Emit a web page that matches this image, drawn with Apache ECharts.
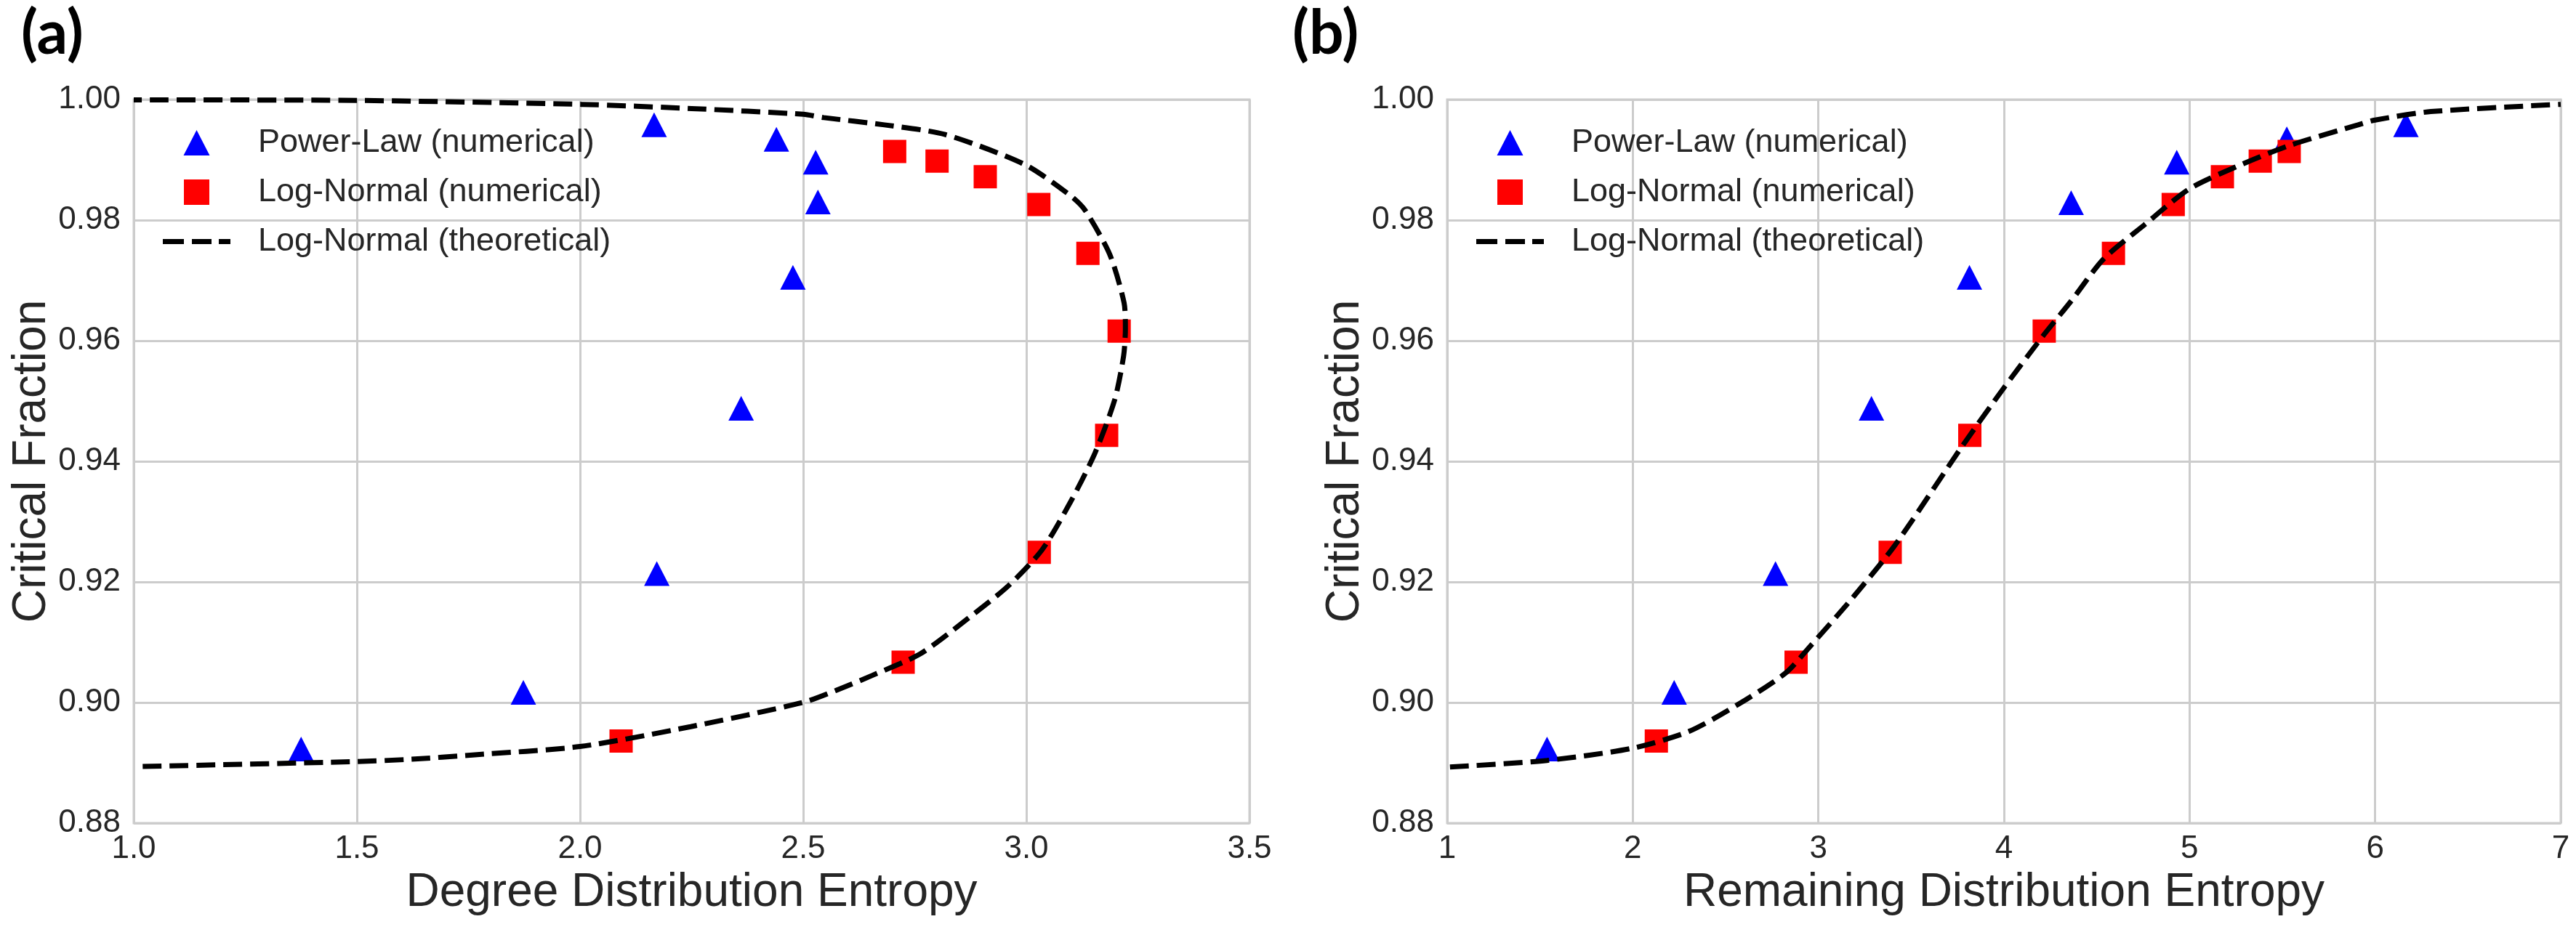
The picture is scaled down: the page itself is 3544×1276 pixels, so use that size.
<!DOCTYPE html>
<html>
<head>
<meta charset="utf-8">
<script src="https://cdn.jsdelivr.net/npm/echarts/dist/echarts.min.js"></script>
<style>
html, body { margin: 0; padding: 0; background: #fff; }
#chart { width: 3544px; height: 1276px; }
</style>
</head>
<body>
<div id="chart"></div>
<script>
// panel (a) - degree distribution entropy
const plDegX = [1.375, 1.873, 2.172, 2.166, 2.361, 2.440, 2.477, 2.528, 2.533];
const plDegY = [0.8923, 0.9017, 0.9214, 0.9958, 0.9488, 0.9934, 0.9705, 0.9896, 0.9830];
const lnDegX = [2.092, 2.724, 3.029, 3.180, 3.208, 3.138, 3.028, 2.908, 2.800, 2.705];
const lnDegY = [0.8936, 0.9067, 0.9249, 0.9443, 0.9616, 0.9745, 0.9826, 0.9872, 0.9898, 0.9914];
const theoDegX = [1.02, 1.5, 1.623, 1.759, 2.0, 2.248, 2.499, 2.573, 2.655, 2.763, 2.872, 2.959, 3.035, 3.100, 3.154,
  3.198, 3.218, 3.222, 3.219, 3.187, 3.132, 3.100, 2.997, 2.818, 2.682, 2.546, 2.5, 2.25, 2.003, 1.5, 1.0];
const theoDegY = [0.8894, 0.8902, 0.8906, 0.8913, 0.8927, 0.8960, 0.9000, 0.9020, 0.9045, 0.9081, 0.9141, 0.9193, 0.9253, 0.9334, 0.9414,
  0.9502, 0.9575, 0.9620, 0.9663, 0.9743, 0.9816, 0.9840, 0.9892, 0.9942, 0.9958, 0.9970, 0.99755, 0.9985, 0.9992, 0.99985, 0.99995];

// panel (b) - remaining distribution entropy
const plRemX = [1.538, 2.223, 2.769, 3.286, 3.814, 4.362, 4.931, 5.524, 6.166];
const plRemY = [0.8923, 0.9017, 0.9214, 0.9488, 0.9705, 0.9829, 0.9896, 0.9935, 0.9958];
const lnRemX = [2.127, 2.880, 3.387, 3.816, 4.217, 4.590, 4.912, 5.177, 5.381, 5.537];
const lnRemY = [0.8936, 0.9067, 0.9249, 0.9443, 0.9616, 0.9745, 0.9826, 0.9872, 0.9898, 0.9914];
const theoRemX = [1.015, 1.538, 1.995, 2.302, 2.563, 2.824, 2.955, 3.18, 3.413, 3.777, 4.0, 4.208, 4.365, 4.535,
  4.756, 5.0, 5.278, 5.540, 5.908, 6.0, 6.300, 7.0];
const theoRemY = [0.8893, 0.8904, 0.8924, 0.8952, 0.8996, 0.9049, 0.9093, 0.9172, 0.9261, 0.9426, 0.9522, 0.9607, 0.9667, 0.9735,
  0.9792, 0.9852, 0.9892, 0.9924, 0.9958, 0.9966, 0.9980, 0.9992];

const yTicks = { min: 0.88, max: 1.0, interval: 0.02 };
const names = ['Power-Law (numerical)', 'Log-Normal (numerical)', 'Log-Normal (theoretical)'];

const zip = (xs, ys) => xs.map((x, i) => [x, ys[i]]);

const FONT = "'Liberation Sans', Arial, sans-serif";
const INK = '#262626';
const GRID = '#cccccc';

// legend handles drawn as paths so they keep their shape
const ICON_TRI = 'path://M17.5,0L35,34L0,34Z';
const ICON_SQ = 'path://M0,0L32,0L32,32L0,32Z';
const ICON_DASH = 'path://M0,0h29v7h-29z M40,0h27v7h-27z M77,0h16v7h-16z';

function xAxis(idx, min, max, interval, digits, name) {
  return {
    type: 'value', gridIndex: idx, min: min, max: max, interval: interval,
    name: name, nameLocation: 'middle', nameGap: 64,
    nameTextStyle: { fontFamily: FONT, fontSize: 64, color: INK },
    axisLine: { show: false }, axisTick: { show: false },
    axisLabel: { fontFamily: FONT, fontSize: 44, color: INK, margin: 14,
      formatter: v => v.toFixed(digits) },
    splitLine: { lineStyle: { color: GRID, width: 3 } }
  };
}
function yAxis(idx) {
  return {
    type: 'value', gridIndex: idx, min: yTicks.min, max: yTicks.max, interval: yTicks.interval,
    name: 'Critical Fraction', nameLocation: 'middle', nameGap: 102,
    nameTextStyle: { fontFamily: FONT, fontSize: 64, color: INK },
    axisLine: { show: false }, axisTick: { show: false },
    axisLabel: { fontFamily: FONT, fontSize: 44, color: INK, margin: 18,
      formatter: v => v.toFixed(2) },
    splitLine: { lineStyle: { color: GRID, width: 3 } }
  };
}
function legend(left) {
  return {
    orient: 'vertical', left: left, top: 174, padding: 0,
    itemWidth: 93, itemHeight: 35, itemGap: 23, symbolKeepAspect: true,
    data: [
      { name: names[0], icon: ICON_TRI, itemStyle: { color: '#0000ff' } },
      { name: names[1], icon: ICON_SQ, itemStyle: { color: '#ff0000' } },
      { name: names[2], icon: ICON_DASH, itemStyle: { color: '#000000' } }
    ],
    textStyle: { fontFamily: FONT, fontSize: 45, color: INK, padding: [0, 0, 0, 33] }
  };
}
function seriesFor(idx, plX, plY, lnX, lnY, thX, thY) {
  return [
    { name: names[0], type: 'scatter', xAxisIndex: idx, yAxisIndex: idx,
      symbol: 'triangle', symbolSize: [35, 34], itemStyle: { color: '#0000ff', opacity: 1 },
      data: zip(plX, plY) },
    { name: names[1], type: 'scatter', xAxisIndex: idx, yAxisIndex: idx,
      symbol: 'rect', symbolSize: 32, itemStyle: { color: '#ff0000', opacity: 1 },
      data: zip(lnX, lnY) },
    { name: names[2], type: 'line', xAxisIndex: idx, yAxisIndex: idx,
      symbol: 'none', smooth: 0.25, itemStyle: { color: '#000000' },
      lineStyle: { color: '#000000', width: 7, type: [26, 11] },
      data: zip(thX, thY) }
  ];
}

const chart = echarts.init(document.getElementById('chart'));
chart.setOption({
  backgroundColor: '#ffffff',
  animation: false,
  title: [
    { text: '(a)', left: 24, top: 0, textStyle: { fontFamily: 'Lato, sans-serif', fontWeight: 'bold', fontSize: 84, color: '#000' } },
    { text: '(b)', left: 1773, top: 0, textStyle: { fontFamily: 'Lato, sans-serif', fontWeight: 'bold', fontSize: 84, color: '#000' } }
  ],
  legend: [legend(224), legend(2031)],
  grid: [
    { left: 184, right: 1825, top: 137, bottom: 143, show: true, borderColor: GRID, borderWidth: 3 },
    { left: 1991, right: 21, top: 137, bottom: 143, show: true, borderColor: GRID, borderWidth: 3 }
  ],
  xAxis: [
    xAxis(0, 1.0, 3.5, 0.5, 1, 'Degree Distribution Entropy'),
    xAxis(1, 1, 7, 1, 0, 'Remaining Distribution Entropy')
  ],
  yAxis: [yAxis(0), yAxis(1)],
  series: seriesFor(0, plDegX, plDegY, lnDegX, lnDegY, theoDegX, theoDegY)
    .concat(seriesFor(1, plRemX, plRemY, lnRemX, lnRemY, theoRemX, theoRemY))
});
</script>
</body>
</html>
